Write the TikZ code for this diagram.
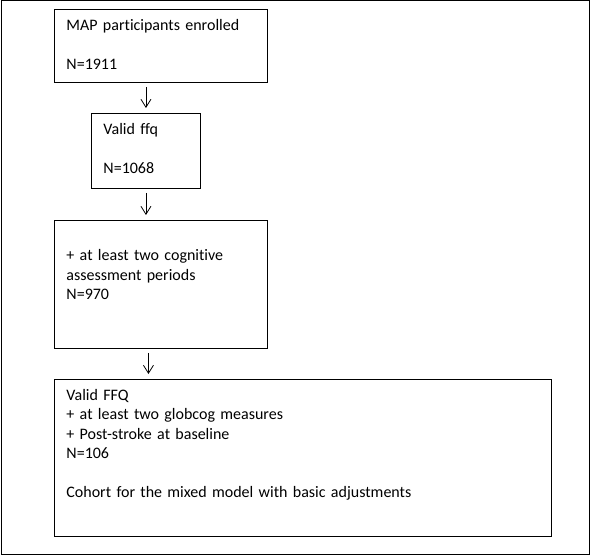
\documentclass[tikz,border=0pt]{standalone}
\usepackage{fontspec}
\setmainfont{Carlito}[Ligatures=NoCommon]
\usetikzlibrary{arrows.meta}

\tikzset{
    stage/.style={draw, line width=0.9pt, anchor=north west, align=left,
        inner xsep=12pt, inner ysep=7pt, text height=14pt,
        font=\fontsize{16}{19.5}\selectfont},
    flow/.style={-{Straight Barb[length=8pt,width=10pt]}, line width=0.8pt,
        shorten <=4pt, shorten >=5pt}
}

\begin{document}
\begin{tikzpicture}[x=1pt, y=-1pt]

\useasboundingbox (0, 0) rectangle (592, 556);
\draw[line width=0.9pt] (1, 0.5) rectangle (589, 554.5);

\node[stage, text width=189pt, text depth=45pt] (enrolled) at (54, 9)
    {MAP participants enrolled\\[19.5pt]N=1911};
\node[stage, text width=85pt, text depth=47pt] (validffq) at (91, 113)
    {Valid ffq\\[19.5pt]N=1068};
\node[stage, text width=189pt, text depth=100pt] (cognitive) at (54, 220)
    {\\+ at least two cognitive\\assessment periods\\N=970};
\node[stage, text width=473pt, text depth=129pt] (cohort) at (54, 379)
    {Valid FFQ\\+ at least two globcog measures\\+ Post-stroke at baseline\\N=106\\[19.5pt]Cohort for the mixed model with basic adjustments};

\draw[flow] (enrolled.south -| validffq.north) -- (validffq.north);
\draw[flow] (validffq.south) -- (validffq.south |- cognitive.north);
\draw[flow] ([xshift=2.5pt]cognitive.south -| validffq.south) -- ([xshift=2.5pt]validffq.south |- cohort.north);

\end{tikzpicture}
\end{document}
